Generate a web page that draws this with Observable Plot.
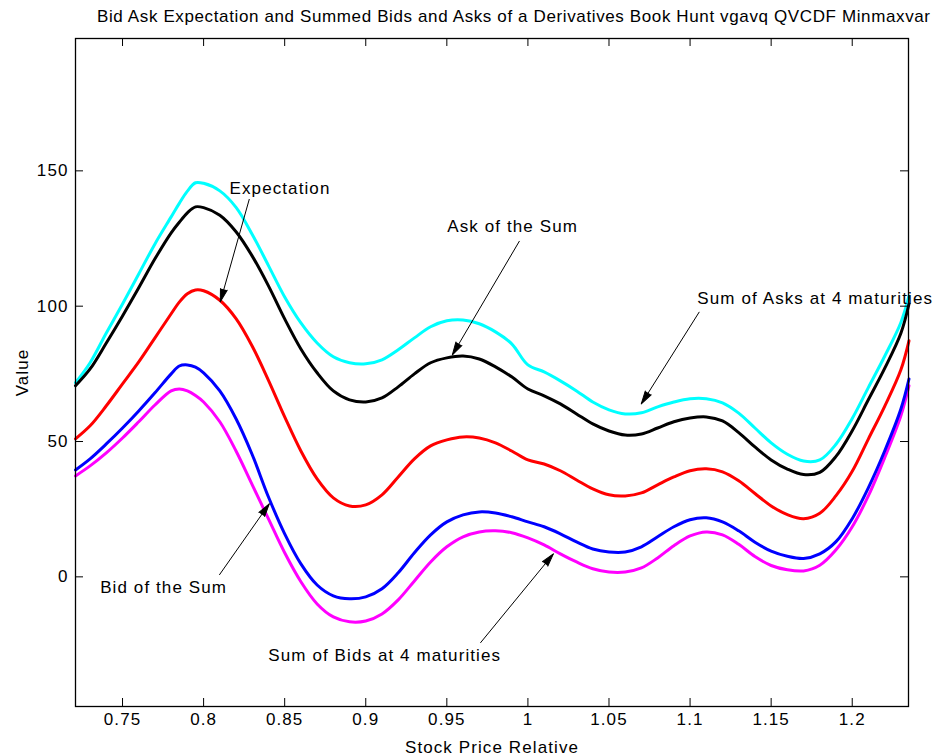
<!DOCTYPE html>
<html><head><meta charset="utf-8">
<script src="https://cdn.jsdelivr.net/npm/d3@7"></script>
<script src="https://cdn.jsdelivr.net/npm/@observablehq/plot@0.6"></script>
<style>
body{margin:0;background:#fff;font-family:"Liberation Sans",Arial,sans-serif;}
#wrap{position:relative;width:940px;height:755px;}
#title{position:absolute;left:0;top:0;}
#chart{position:absolute;left:0;top:0;}
</style></head><body>
<div id="wrap"><div id="chart"></div><svg id="title" width="940" height="32"><text id="ttext" x="97" y="22" font-family='"Liberation Sans", Arial, sans-serif' font-size="17" fill="black" textLength="833" lengthAdjust="spacing">Bid Ask Expectation and Summed Bids and Asks of a Derivatives Book Hunt vgavq QVCDF Minmaxvar</text></svg></div>
<script>
// ---- data ----
const stockPriceRelative = [0.721,0.73,0.74,0.75,0.76,0.77,0.78,0.785,0.79,0.795,0.80,0.81,0.82,0.83,0.84,0.85,0.86,0.87,0.88,0.89,0.90,0.91,0.92,0.93,0.94,0.95,0.96,0.97,0.98,0.99,1.00,1.01,1.02,1.03,1.04,1.05,1.06,1.07,1.08,1.09,1.10,1.11,1.12,1.13,1.14,1.15,1.16,1.17,1.18,1.19,1.20,1.21,1.22,1.23,1.235];
const sumOfAsks = [71.7,79.1,90.1,100.8,111.9,123.0,133.0,138.0,142.5,145.6,145.4,142.6,136.5,126.5,115.0,103.4,93.8,86.4,81.3,79.1,78.7,80.2,83.9,88.3,92.4,94.6,94.9,93.5,90.5,86.1,78.3,75.7,72.4,68.7,64.6,61.7,60.2,60.6,62.8,64.6,65.8,65.8,64.3,60.5,55.0,49.5,45.3,42.8,43.2,49.0,58.5,70.0,81.5,94.0,103.8];
const askOfSum = [70.6,76.8,86.4,96.4,106.8,117.5,127.1,131.0,134.5,136.7,136.4,133.6,127.5,118.5,107.5,95.3,84.2,75.4,68.7,65.4,64.6,66.1,70.2,75.0,79.1,80.9,81.6,80.5,77.6,73.9,69.4,66.9,63.9,60.2,56.5,53.9,52.4,52.8,55.0,57.3,58.7,59.1,57.6,53.3,48.0,43.2,39.8,37.8,38.6,44.5,54.0,65.5,77.0,90.0,100.8];
const expectation = [51.0,55.8,63.2,71.3,79.4,88.3,97.2,101.5,104.6,106.0,105.7,102.2,95.4,85.2,72.6,59.1,46.5,36.2,29.2,26.2,26.6,30.3,36.9,43.6,48.4,50.6,51.7,51.3,49.5,46.5,43.2,41.7,39.2,35.8,32.5,30.3,29.9,31.0,34.0,36.9,39.2,39.9,38.8,35.5,30.8,26.2,23.0,21.5,23.5,30.0,39.0,51.0,63.0,76.5,87.2];
const bidOfSum = [39.5,43.6,49.1,55.0,61.3,68.0,75.0,77.9,78.3,77.5,75.4,68.7,58.4,45.1,29.5,15.9,4.8,-3.0,-7.0,-8.1,-7.4,-4.4,1.5,8.9,15.5,20.3,22.9,24.0,23.6,22.2,20.3,18.5,15.9,12.9,10.3,9.2,9.2,11.1,14.8,18.5,21.1,21.8,20.3,17.0,12.8,9.5,7.6,6.8,8.5,13.0,21.5,33.0,46.5,62.0,73.1];
const sumOfBids = [37.3,41.0,45.8,51.3,57.3,63.5,68.7,69.4,68.7,67.0,64.6,57.3,46.5,34.0,21.4,8.9,-1.8,-10.0,-14.8,-16.6,-16.3,-13.7,-8.5,-1.5,5.5,11.1,14.8,16.6,17.0,16.3,14.4,11.8,8.5,5.5,3.0,1.8,1.8,3.3,7.0,11.5,15.1,16.6,15.5,12.0,7.5,4.2,2.6,2.2,4.3,10.0,18.5,30.0,44.0,59.5,70.6];
const seriesNames = ["Sum of Asks at 4 maturities","Ask of the Sum","Expectation","Sum of Bids at 4 maturities","Bid of the Sum"];
const seriesColors = ["#00FFFF","#000000","#FF0000","#FF00FF","#0000FF"];
const xTicks = [0.75,0.8,0.85,0.9,0.95,1,1.05,1.1,1.15,1.2];
const yTicks = [0,50,100,150];
const annText = ["Expectation","Ask of the Sum","Sum of Asks at 4 maturities","Bid of the Sum","Sum of Bids at 4 maturities"];
const annX = [0.816,0.9503,1.1045,0.7362,0.8399];
const annY = [143.3,129.3,102.7,-4.1,-29.2];
const arrowFromX = [0.8282,0.9948,1.1057,0.8097,0.9707];
const arrowFromY = [139.6,124.1,97.9,0.7,-24.4];
const arrowToX = [0.8103,0.9534,1.0699,0.8405,1.0157];
const arrowToY = [101.6,82.0,63.9,27.0,8.5];

// ---- layout ----
const W = 940, H = 755, mL = 75, mR = 32, mT = 38, mB = 49;
const innerW = W - mL - mR, innerH = H - mT - mB;
const xDomain = [0.721, 1.2347], yDomain = [-47.9, 198.9];
const FONT = '"Liberation Sans", Arial, sans-serif';

const allSeries = [sumOfAsks, askOfSum, expectation, sumOfBids, bidOfSum];
const lineData = allSeries.map((vals, k) => stockPriceRelative.map((x, i) => ({series: seriesNames[k], x, y: vals[i]})));
const ann = annText.map((t, i) => ({t, x: annX[i], y: annY[i], x1: arrowFromX[i], y1: arrowFromY[i], x2: arrowToX[i], y2: arrowToY[i]}));

const sx = Plot.scale({x: {domain: xDomain, range: [mL, W - mR]}});
const sy = Plot.scale({y: {domain: yDomain, range: [H - mB, mT]}});
ann.forEach(d => {
  const dx = sx.apply(d.x2) - sx.apply(d.x1);
  const dy = sy.apply(d.y2) - sy.apply(d.y1);
  d.angle = Math.atan2(dx, -dy) * 180 / Math.PI;
});

function build(useSpike) {
  const marks = [
    ...lineData.map((rows, k) => Plot.line(rows, {x: "x", y: "y", stroke: seriesColors[k], strokeWidth: 3, curve: "catmull-rom"})),
    Plot.tickX(xTicks, {x: d => d, insetTop: innerH - 8, stroke: "black", strokeWidth: 1}),
    Plot.tickX(xTicks, {x: d => d, insetBottom: innerH - 8, stroke: "black", strokeWidth: 1}),
    Plot.tickY(yTicks, {y: d => d, insetRight: innerW - 8, stroke: "black", strokeWidth: 1}),
    Plot.tickY(yTicks, {y: d => d, insetLeft: innerW - 8, stroke: "black", strokeWidth: 1}),
    Plot.axisX({ticks: xTicks, tickSize: 0, tickPadding: 6, tickFormat: d => String(d), label: "Stock Price Relative", labelAnchor: "center", labelOffset: 46, labelArrow: "none", fontSize: 17}),
    Plot.axisY({ticks: yTicks, tickSize: 0, tickPadding: 7, tickFormat: d => String(d), label: "Value", labelAnchor: "center", labelOffset: 60, labelArrow: "none", fontSize: 17}),
    Plot.frame({stroke: "black", strokeWidth: 1.3}),
    Plot.text(ann, {x: "x", y: "y", text: "t", textAnchor: "start", fontSize: 17, fill: "black"}),
    Plot.link(ann, {x1: "x1", y1: "y1", x2: "x2", y2: "y2", stroke: "black", strokeWidth: 1})
  ];
  if (useSpike) {
    marks.push(Plot.vector(ann, {x: "x2", y: "y2", rotate: "angle", length: 13, r: 3.5, shape: "spike", anchor: "end", fill: "black", stroke: "black", strokeWidth: 1}));
  } else {
    marks.push(Plot.arrow(ann, {x1: "x1", y1: "y1", x2: "x2", y2: "y2", stroke: "black", strokeWidth: 1, headLength: 12}));
  }
  return Plot.plot({
    width: W, height: H,
    marginLeft: mL, marginRight: mR, marginTop: mT, marginBottom: mB,
    style: {fontFamily: FONT, fontSize: "17px", letterSpacing: "1.1px", background: "white", color: "black"},
    x: {domain: xDomain},
    y: {domain: yDomain},
    marks
  });
}
let chart;
try { chart = build(true); } catch (e) { chart = build(false); }
document.getElementById("chart").appendChild(chart);
</script>
</body></html>
